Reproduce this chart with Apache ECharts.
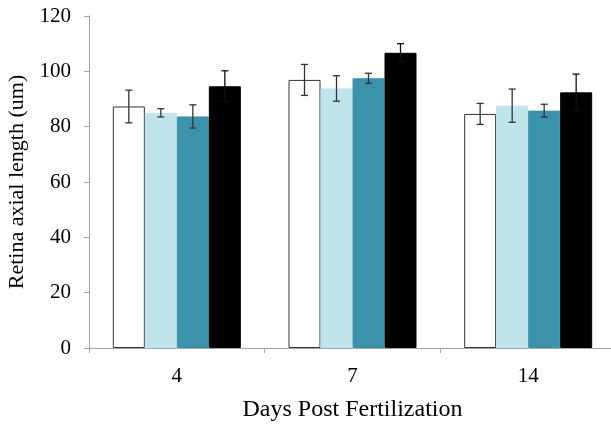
<!DOCTYPE html>
<html>
<head>
<meta charset="utf-8">
<script src="https://cdn.jsdelivr.net/npm/echarts@6/dist/echarts.min.js"></script>
<style>
  html, body { margin: 0; padding: 0; background: #fff; }
  #chart { width: 611px; height: 424px; }
</style>
</head>
<body>
<div id="chart"></div>
<script>
// days post fertilization
const days = ['4', '7', '14'];

// four groups, mean retina axial length (um) per day
const groupA = [87.3, 96.9, 84.6];
const groupB = [85.0, 93.8, 87.6];
const groupC = [83.7, 97.5, 85.8];
const groupD = [94.6, 106.7, 92.4];

// standard error (+/-) per group per day
const errA = [5.9, 5.6, 3.8];
const errB = [1.5, 4.6, 6.0];
const errC = [4.2, 1.8, 2.3];
const errD = [5.6, 3.3, 6.6];

const yTicks = { min: 0, max: 120, interval: 20 };

const FONT = '"Liberation Serif", "DejaVu Serif", serif';
const BAR_W = 32;
const groups = [
  { values: groupA, err: errA, color: '#ffffff', border: '#333333', whisker: '#333333' },
  { values: groupB, err: errB, color: '#c1e3eb', border: '#c1e3eb', whisker: '#333333' },
  { values: groupC, err: errC, color: '#3a93ab', border: '#3a93ab', whisker: '#333333' },
  { values: groupD, err: errD, color: '#000000', border: '#000000', whisker: '#111111' },
];

const chart = echarts.init(document.getElementById('chart'));

const barSeries = groups.map((g) => ({
  type: 'bar',
  data: g.values,
  barWidth: BAR_W,
  barGap: '0%',
  itemStyle: { color: g.color, borderColor: g.border, borderWidth: 1 },
  z: 2,
}));

// error bars drawn on top of each bar, offset to the bar's slot in the group
const errSeries = groups.map((g, gi) => ({
  type: 'custom',
  data: g.values.map((v, i) => [i, v - g.err[i], v + g.err[i]]),
  z: 5,
  renderItem: (params, api) => {
    const lo = api.coord([api.value(0), api.value(1)]);
    const hi = api.coord([api.value(0), api.value(2)]);
    const x = lo[0] + (gi - 1.5) * BAR_W;
    const cap = 3.5;
    const style = { stroke: g.whisker, lineWidth: 1.3 };
    return {
      type: 'group',
      children: [
        { type: 'line', shape: { x1: x, y1: lo[1], x2: x, y2: hi[1] }, style },
        { type: 'line', shape: { x1: x - cap, y1: hi[1], x2: x + cap, y2: hi[1] }, style },
        { type: 'line', shape: { x1: x - cap, y1: lo[1], x2: x + cap, y2: lo[1] }, style },
      ],
    };
  },
}));

chart.setOption({
  animation: false,
  grid: { left: 89, top: 16, width: 527, bottom: 76, outerBoundsMode: 'none' },
  xAxis: {
    type: 'category',
    data: days,
    name: 'Days Post Fertilization',
    nameLocation: 'middle',
    nameGap: 50,
    nameTextStyle: { fontFamily: FONT, fontSize: 24, color: '#000' },
    axisLine: { lineStyle: { color: '#a6a6a6', width: 1 } },
    axisTick: { show: true, length: 5, lineStyle: { color: '#a6a6a6' } },
    axisLabel: { fontFamily: FONT, fontSize: 21, color: '#000', margin: 18 },
  },
  yAxis: {
    type: 'value',
    min: yTicks.min,
    max: yTicks.max,
    interval: yTicks.interval,
    name: 'Retina axial length (um)',
    nameLocation: 'middle',
    nameGap: 55,
    nameTextStyle: { fontFamily: FONT, fontSize: 22, color: '#000' },
    axisLine: { show: true, lineStyle: { color: '#a6a6a6', width: 1 } },
    axisTick: { show: true, length: 5, lineStyle: { color: '#a6a6a6' } },
    axisLabel: { fontFamily: FONT, fontSize: 21, color: '#000', margin: 18 },
    splitLine: { show: false },
  },
  series: [...barSeries, ...errSeries],
});
</script>
</body>
</html>
